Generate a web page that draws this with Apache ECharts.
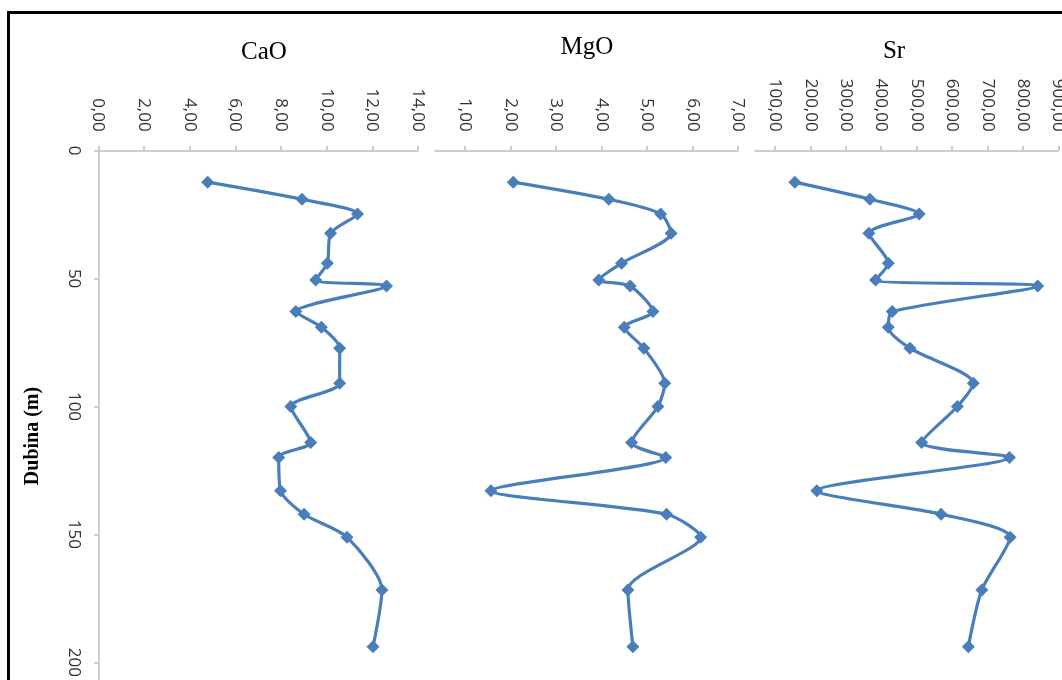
<!DOCTYPE html>
<html>
<head>
<meta charset="utf-8">
<script src="https://cdn.jsdelivr.net/npm/echarts@6/dist/echarts.min.js"></script>
<style>html,body{margin:0;padding:0;background:#fff;}#c{width:1062px;height:680px;}</style>
</head>
<body>
<div id="c"></div>
<script>
// Depth (m) of each sample
const depth = [12.3, 19, 24.7, 32.3, 44, 50.5, 52.9, 62.9, 69, 77.2, 90.9, 100, 114.1, 119.9, 132.9, 142.1, 151.1, 171.7, 193.9];
// Series values
const caoValues = [4.79, 8.92, 11.35, 10.17, 10.03, 9.52, 12.62, 8.65, 9.77, 10.57, 10.57, 8.43, 9.30, 7.90, 7.98, 9.01, 10.89, 12.42, 12.03];
const mgoValues = [2.06, 4.16, 5.30, 5.53, 4.44, 3.94, 4.63, 5.13, 4.50, 4.93, 5.39, 5.24, 4.66, 5.41, 1.57, 5.43, 6.18, 4.58, 4.69];
const srValues = [156, 368, 507, 365, 420, 384, 842, 431, 420, 481, 660, 615, 514, 762, 218, 569, 764, 684, 646];
// Panel titles and tick values
const panelTitles = ['CaO', 'MgO', 'Sr'];
const mgoTicks = [1, 2, 3, 4, 5, 6, 7];
const srTicks = [100, 200, 300, 400, 500, 600, 700, 800, 900];
const yAxisName = 'Dubina (m)';

const pairs = (vals) => vals.map((v, i) => [v, depth[i]]);
const fmt = (v) => Number(v).toFixed(2).replace('.', ',');

const axisGrey = '#bfbfbf';
const labelFont = { fontFamily: 'Open Sans', fontSize: 17, color: '#333333' };
const lineColor = '#4a7ebb';

function xAxisBase(idx) {
  return {
    type: 'value', gridIndex: idx, position: 'top',
    axisLine: { show: true, lineStyle: { color: axisGrey, width: 1.5 } },
    axisTick: { show: true, inside: false, length: 5, lineStyle: { color: axisGrey, width: 1.5 } },
    axisLabel: Object.assign({ rotate: -90, margin: 19, formatter: fmt }, labelFont),
    splitLine: { show: false }
  };
}

const xAxes = [
  Object.assign(xAxisBase(0), { min: 0, max: 14, interval: 2 }),
  Object.assign(xAxisBase(1), { min: 0.34, max: 7 }),
  Object.assign(xAxisBase(2), { min: 43.5, max: 900 })
];
xAxes[1].axisTick.customValues = mgoTicks;
xAxes[1].axisLabel.customValues = mgoTicks;
xAxes[2].axisTick.customValues = srTicks;
xAxes[2].axisLabel.customValues = srTicks;

const yAxes = [0, 1, 2].map((i) => ({
  type: 'value', gridIndex: i, inverse: true, min: 0, max: 250, interval: 50,
  show: i === 0,
  axisLine: { show: true, lineStyle: { color: axisGrey, width: 1.5 } },
  axisTick: { show: true, length: 4, lineStyle: { color: axisGrey, width: 1.5 } },
  axisLabel: Object.assign({ rotate: -90, margin: 16 }, labelFont),
  splitLine: { show: false }
}));

const gridTop = 150.7, gridH = 639.5;
const grids = [
  { left: 98.3, top: gridTop, width: 319.7, height: gridH },
  { left: 435, top: gridTop, width: 303, height: gridH },
  { left: 755, top: gridTop, width: 303.3, height: gridH }
].map(g => Object.assign(g, { containLabel: false, outerBoundsMode: 'none' }));

const seriesVals = [caoValues, mgoValues, srValues];
const series = seriesVals.map((vals, i) => ({
  type: 'line', xAxisIndex: i, yAxisIndex: i, data: pairs(vals),
  smooth: 0.25, symbol: 'diamond', symbolSize: 13,
  lineStyle: { color: lineColor, width: 3.2 },
  itemStyle: { color: lineColor },
  animation: false
}));

const titleX = [259, 582, 889];
const titleY = [35, 30, 34];
const titles = panelTitles.map((t, i) => ({
  text: t, left: titleX[i], top: titleY[i], textAlign: 'center',
  textStyle: { fontFamily: 'Liberation Serif', fontWeight: 'normal', fontSize: 25, color: '#000' }
}));

const chart = echarts.init(document.getElementById('c'), null, { renderer: 'canvas' });
chart.setOption({
  animation: false,
  backgroundColor: '#fff',
  title: titles,
  grid: grids,
  xAxis: xAxes,
  yAxis: yAxes,
  series: series,
  graphic: [{
    type: 'rect', left: 6, top: 10, silent: true,
    shape: { x: 0, y: 0, width: 1200, height: 800 },
    style: { fill: 'none', stroke: '#000', lineWidth: 3 }
  }, {
    type: 'text', x: 33, y: 436, rotation: Math.PI / 2, silent: true,
    style: {
      text: yAxisName, align: 'center', verticalAlign: 'middle',
      font: 'bold 20px "Liberation Serif"', fill: '#000'
    }
  }]
});
</script>
</body>
</html>
